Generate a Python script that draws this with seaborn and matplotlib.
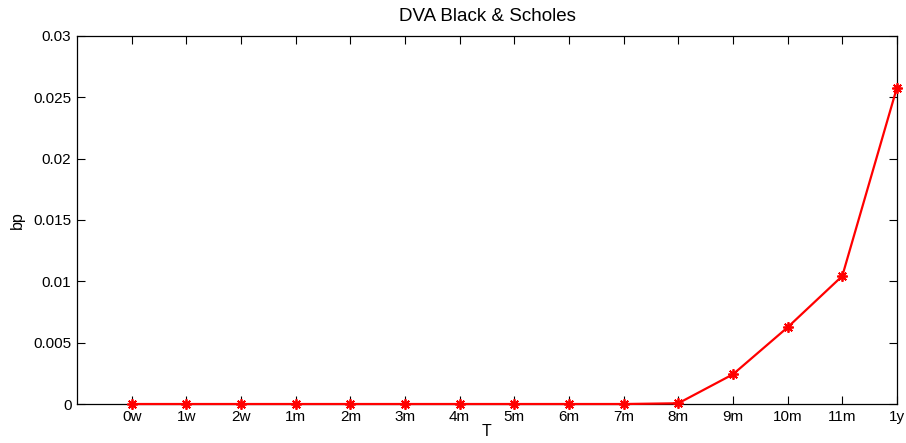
import numpy as np
import pandas as pd
import matplotlib
matplotlib.use("Agg")
import matplotlib.pyplot as plt
import seaborn as sns

# Tenors and DVA values (bp)
tenors = ["0w", "1w", "2w", "1m", "2m", "3m", "4m", "5m", "6m", "7m",
          "8m", "9m", "10m", "11m", "1y"]
dva_bp = [0.0, 0.0, 0.0, 0.0, 0.0, 0.0, 0.0, 0.0, 0.0, 0.0,
          0.00006, 0.00242, 0.00625, 0.01043, 0.02579]
y_ticks = [0, 0.005, 0.01, 0.015, 0.02, 0.025, 0.03]
y_tick_labels = ["0", "0.005", "0.01", "0.015", "0.02", "0.025", "0.03"]

sns.set_style("white")
plt.rcParams["font.family"] = ["Liberation Sans", "DejaVu Sans"]

df = pd.DataFrame({"pos": np.arange(len(tenors)), "T": tenors, "bp": dva_bp})

fig = plt.figure(figsize=(9.06, 4.43), dpi=100)
ax = fig.add_axes([0.085, 0.088, 0.905, 0.831])

sns.lineplot(data=df, x="pos", y="bp", ax=ax, color="#ff0000", linewidth=1.6,
             marker=(8, 2, 0), markersize=7.5, markeredgewidth=1.3,
             markeredgecolor="#ff0000", markerfacecolor="#ff0000",
             clip_on=False, zorder=5)

ax.set_xlim(-1, 14)
ax.set_ylim(0, 0.03)
ax.set_xticks(df["pos"])
ax.set_xticklabels(tenors)
ax.set_yticks(y_ticks)
ax.set_yticklabels(y_tick_labels)

ax.tick_params(direction="in", length=6, width=0.8, color="black",
               labelsize=11, labelcolor="black", top=True, right=True,
               bottom=True, left=True, pad=4)
for s in ax.spines.values():
    s.set_visible(True)
    s.set_color("black")
    s.set_linewidth(0.9)

ax.set_title("DVA Black & Scholes", fontsize=13.5, color="black", pad=11)
ax.set_xlabel("T", fontsize=11.5, color="black", labelpad=0)
ax.set_ylabel("bp", fontsize=11.5, color="black", labelpad=6)

fig.savefig("out.png", dpi=100)
